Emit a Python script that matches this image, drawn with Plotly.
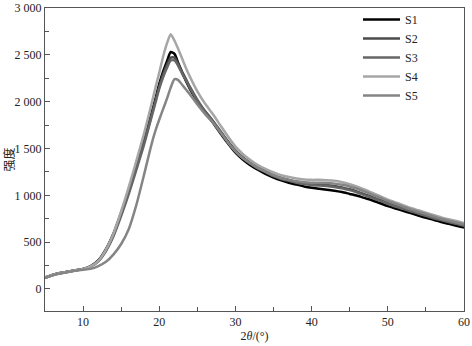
import plotly.graph_objects as go

two_theta = [5, 6, 7, 8, 9, 10, 11, 12, 13, 14, 15, 16, 17, 18, 19,
             19.5, 20, 20.5, 21, 21.5, 22, 22.5, 23, 23.5, 24,
             25, 26, 27, 28, 29, 30, 31, 32, 33, 34, 35, 36, 37, 38, 39, 40,
             41, 42, 43, 44, 45, 46, 47, 48, 49, 50, 51, 52, 53, 54, 55, 56, 57, 58, 59, 60]

s1 = [120, 150, 170, 185, 200, 215, 245, 305, 425, 595, 815, 1055, 1315, 1580, 1880,
      2030, 2190, 2320, 2430, 2530, 2510, 2410, 2310, 2220, 2140,
      2000, 1880, 1780, 1665, 1555, 1455, 1380, 1320, 1270, 1225, 1190, 1160, 1135, 1115, 1095, 1080,
      1070, 1060, 1050, 1035, 1015, 995, 970, 945, 915, 885, 860, 835, 810, 785, 760, 740, 715, 695, 675, 655]
s2 = [125, 150, 170, 185, 200, 215, 242, 300, 415, 580, 800, 1040, 1300, 1565, 1860,
      2010, 2160, 2290, 2390, 2470, 2470, 2400, 2320, 2240, 2160,
      2020, 1900, 1800, 1690, 1580, 1480, 1405, 1345, 1295, 1255, 1215, 1185, 1165, 1145, 1130, 1120,
      1115, 1110, 1100, 1085, 1065, 1040, 1010, 980, 950, 920, 890, 860, 835, 810, 785, 760, 740, 720, 700, 680]
s3 = [120, 150, 170, 185, 200, 212, 238, 295, 405, 565, 780, 1015, 1275, 1540, 1840,
      1990, 2140, 2260, 2360, 2440, 2440, 2380, 2300, 2230, 2150,
      2010, 1890, 1790, 1680, 1570, 1470, 1395, 1335, 1285, 1245, 1205, 1175, 1155, 1135, 1120, 1110,
      1105, 1100, 1090, 1075, 1055, 1030, 1000, 970, 940, 910, 880, 855, 830, 805, 780, 755, 735, 715, 695, 675]
s4 = [125, 150, 170, 185, 200, 215, 242, 300, 420, 595, 830, 1090, 1370, 1660, 1980,
      2150, 2310, 2480, 2620, 2720, 2650, 2560, 2460, 2360, 2270,
      2110, 1980, 1870, 1750, 1630, 1520, 1440, 1375, 1320, 1280, 1245, 1215, 1195, 1180, 1170, 1165,
      1165, 1162, 1155, 1140, 1120, 1092, 1060, 1025, 990, 955, 925, 895, 865, 840, 815, 790, 765, 745, 725, 705]
s5 = [120, 145, 165, 180, 195, 205, 215, 245, 290, 370, 480, 640, 900, 1220, 1550,
      1690, 1810, 1920, 2030, 2150, 2240, 2230, 2180, 2130, 2080,
      1970, 1870, 1780, 1675, 1565, 1470, 1395, 1340, 1290, 1250, 1215, 1185, 1165, 1150, 1140, 1135,
      1135, 1132, 1125, 1112, 1095, 1070, 1040, 1005, 975, 940, 910, 880, 850, 825, 800, 775, 750, 730, 710, 690]

y_tick_vals = [0, 500, 1000, 1500, 2000, 2500, 3000]
y_tick_text = ["0", "500", "1 000", "1 500", "2 000", "2 500", "3 000"]
x_tick_vals = [10, 20, 30, 40, 50, 60]

series = [("S1", s1, "#000000"), ("S2", s2, "#4a4a4a"), ("S3", s3, "#666666"),
          ("S4", s4, "#a6a6a6"), ("S5", s5, "#858585")]

fig = go.Figure()
for name, vals, col in series:
    fig.add_trace(go.Scatter(x=two_theta, y=vals, mode="lines", name=name,
                             line=dict(color=col, width=2.5, shape="spline", smoothing=0.6)))

font = "Liberation Serif, Times New Roman, serif"
fig.update_layout(
    width=472, height=346,
    margin=dict(l=45, r=8, t=8, b=35, autoexpand=False),
    plot_bgcolor="white", paper_bgcolor="white",
    font=dict(family=font, size=12, color="#222"),
    showlegend=True,
    legend=dict(x=0.747, y=1.01, xanchor="left", yanchor="top",
                bgcolor="rgba(0,0,0,0)", font=dict(size=12, family=font),
                tracegroupgap=0, itemwidth=37),
    xaxis=dict(range=[5, 60], tickvals=x_tick_vals, automargin=False,
               ticks="inside", ticklen=5, tickcolor="#555",
               minor=dict(tickvals=[15, 25, 35, 45, 55], ticks="inside", ticklen=4, tickcolor="#555"),
               showline=True, linecolor="#555", linewidth=1, mirror=True,
               showgrid=False, zeroline=False,
               title=dict(text="2<i>θ</i>/(°)", standoff=0, font=dict(size=12, family=font))),
    yaxis=dict(range=[-235, 3000], tickvals=y_tick_vals, ticktext=y_tick_text, automargin=False,
               ticks="inside", ticklen=5, tickcolor="#555",
               minor=dict(tickvals=[250, 750, 1250, 1750, 2250, 2750], ticks="inside", ticklen=4, tickcolor="#555"),
               showline=True, linecolor="#555", linewidth=1, mirror=True,
               showgrid=False, zeroline=False,
               title=dict(text="强度", standoff=0, font=dict(size=12, family="Noto Sans CJK SC"))),
)
fig.write_html("out.html", config={"displayModeBar": False},
               post_script="document.body.style.margin='0';")
